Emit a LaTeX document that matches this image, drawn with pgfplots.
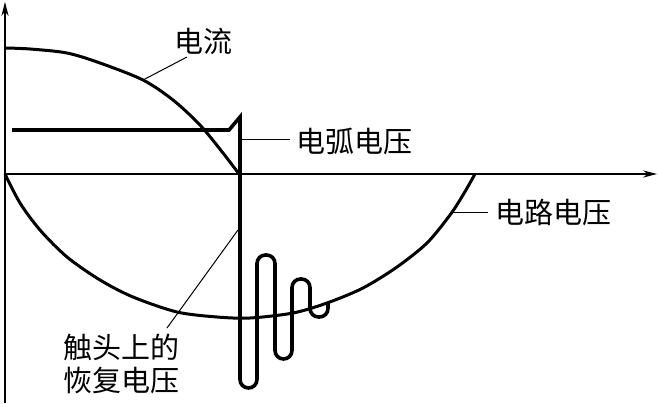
\documentclass[border=0pt]{standalone}
\usepackage{pgfplots}
\pgfplotsset{compat=1.18}
\usepackage{fontspec}
\newfontfamily\cjk{Noto Sans CJK SC}
\usetikzlibrary{arrows.meta}
\begin{document}
\begin{tikzpicture}
\begin{axis}[hide axis, scale only axis, width=329.5pt, height=201.5pt,
  xmin=0, xmax=659, ymin=0, ymax=403, y dir=reverse, clip=false]
\path (axis cs:0,0) rectangle (axis cs:659,403);
% axes
\addplot[black, line width=0.65pt, -{Stealth[length=7pt,width=3.6pt]}] coordinates {(5,403) (5,2)};
\addplot[black, line width=0.65pt, -{Stealth[length=7pt,width=3.6pt]}] coordinates {(5,174) (657,174)};
% current
\addplot[black, line width=1.5pt, smooth] coordinates {
(5,48) (30,49) (67,53) (100,63) (143,80) (173,100) (200,125) (223,153) (239,174)};
% circuit voltage
\addplot[black, line width=1.5pt, smooth] coordinates {
(5,174) (20,203) (40,230) (67,257) (100,280) (133,297) (177,312) (217,317) (250,318)
(293,313) (327,303) (363,288) (397,267) (427,243) (450,215) (463,195) (475,174)};
% arc voltage
\addplot[black, line width=1.8pt, line join=miter] coordinates {
(12,130) (229,130) (240,117) (240,200)};
% recovery voltage
\addplot[black, line width=1.8pt, rounded corners=4.25pt] coordinates {
(240,117) (240,388) (257,388) (257,255) (275,255) (275,359) (292,359) (292,279)
(310,279) (310,317) (328,317) (328,303)};
% leader lines
\draw[line width=0.5pt] (axis cs:143,80) -- (axis cs:187,57);
\draw[line width=0.5pt] (axis cs:242,140) -- (axis cs:290,140);
\draw[line width=0.5pt] (axis cs:453,212) -- (axis cs:488,212);
\draw[line width=0.5pt] (axis cs:238,230) -- (axis cs:167,328);
% labels
\tikzset{lab/.style={font=\cjk\fontsize{14.5pt}{16pt}\selectfont, inner sep=0pt, anchor=west}}
\node[lab] at (axis cs:174,41) {电流};
\node[lab] at (axis cs:296,141) {电弧电压};
\node[lab] at (axis cs:495,212) {电路电压};
\node[lab] at (axis cs:63,347) {触头上的};
\node[lab] at (axis cs:63,380) {恢复电压};
\end{axis}
\end{tikzpicture}
\end{document}
